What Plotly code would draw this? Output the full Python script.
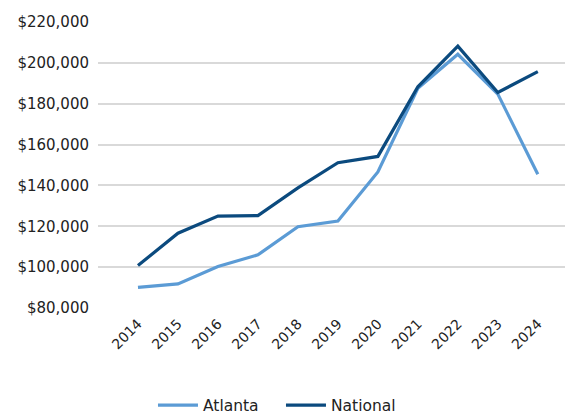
import plotly.graph_objects as go

years = ["2014", "2015", "2016", "2017", "2018", "2019", "2020", "2021", "2022", "2023", "2024"]
atlanta = [90100, 91800, 100300, 106000, 119800, 122600, 146600, 187600, 204200, 184700, 145500]
national = [100800, 116600, 125000, 125200, 138800, 151100, 154200, 188300, 208200, 185500, 195700]
y_ticks = [80000, 100000, 120000, 140000, 160000, 180000, 200000, 220000]
y_tick_labels = ["${:,}".format(v) for v in y_ticks]

FONT = "'DejaVu Sans', sans-serif"

fig = go.Figure()
fig.add_trace(go.Scatter(x=years, y=atlanta, mode="lines", name="Atlanta",
                         line=dict(color="#5B9BD5", width=3.2)))
fig.add_trace(go.Scatter(x=years, y=national, mode="lines", name="National",
                         line=dict(color="#0B4A7E", width=3.2)))

fig.update_layout(
    width=565, height=409,
    margin=dict(l=90, r=0, t=14, b=108.5),
    paper_bgcolor="white", plot_bgcolor="white",
    font=dict(family=FONT, size=14, color="#222222"),
    showlegend=True,
    legend=dict(orientation="h", xref="container", yref="container",
                x=0.2566, xanchor="left", y=0.028, yanchor="middle",
                font=dict(size=15.5, color="#222222"),
                entrywidth=73, entrywidthmode="pixels",
                itemwidth=40, tracegroupgap=0),
)
fig.update_xaxes(type="category", range=[-1, 10.88], showgrid=False,
                 showline=False, zeroline=False, ticks="", automargin=False,
                 tickangle=-45, ticklabelstandoff=4,
                 tickfont=dict(size=14, color="#222222"))
fig.update_yaxes(range=[80000, 220000], tickvals=y_ticks, ticktext=y_tick_labels,
                 showgrid=True, gridcolor="#D9D9D9", gridwidth=1.5, automargin=False,
                 zeroline=False, showline=False, ticks="",
                 ticklabelstandoff=8,
                 tickfont=dict(size=15, color="#222222"))

fig.write_html("out.html")
